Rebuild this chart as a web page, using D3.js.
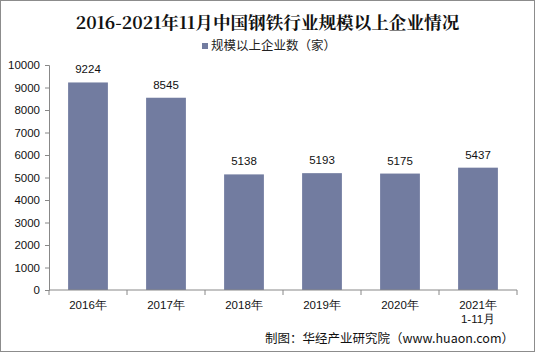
<!DOCTYPE html>
<html>
<head>
<meta charset="utf-8">
<script src="https://cdn.jsdelivr.net/npm/d3@7"></script>
<style>
  body { margin: 0; background: #fff; }
  text { font-family: "Liberation Sans", Arial, sans-serif; }
</style>
</head>
<body>
<div id="chart"></div>
<script>
const categories = ['2016年', '2017年', '2018年', '2019年', '2020年', '2021年\n1-11月'];
const values = [9224, 8545, 5138, 5193, 5175, 5437];
const yTicks = [0, 1000, 2000, 3000, 4000, 5000, 6000, 7000, 8000, 9000, 10000];
const seriesName = '规模以上企业数（家）';
const title = '2016-2021年11月中国钢铁行业规模以上企业情况';
const source = '制图：华经产业研究院（www.huaon.com）';

const W = 535, H = 352;
const margin = { top: 65, right: 18, bottom: 62, left: 49 };
const width = W - margin.left - margin.right;
const height = H - margin.top - margin.bottom;
const barColor = '#727ca0';

const svg = d3.select('#chart').append('svg')
  .attr('width', W)
  .attr('height', H);

// outer frame
svg.append('rect')
  .attr('x', 0.5).attr('y', 0.5)
  .attr('width', W - 1).attr('height', H - 1)
  .attr('fill', '#fff')
  .attr('stroke', '#8c8c8c');

svg.append('text')
  .attr('x', W / 2)
  .attr('y', 29)
  .attr('text-anchor', 'middle')
  .style('font-family', '"Noto Serif CJK SC", "Noto Sans CJK SC", serif')
  .style('font-weight', 'bold')
  .style('font-size', '17.6px')
  .attr('fill', '#111')
  .text(title);

// legend
const legend = svg.append('g').attr('transform', 'translate(202,46)');
legend.append('rect')
  .attr('x', 0).attr('y', -3)
  .attr('width', 6).attr('height', 6)
  .attr('fill', barColor);
legend.append('text')
  .attr('x', 9).attr('y', 0)
  .attr('dy', '0.35em')
  .style('font-family', '"Noto Sans CJK SC", sans-serif')
  .style('font-size', '12.5px')
  .attr('fill', '#222')
  .text(seriesName);

const g = svg.append('g').attr('transform', 'translate(' + margin.left + ',' + margin.top + ')');

const x = d3.scaleBand()
  .domain(categories)
  .range([0, width])
  .paddingInner(0.49)
  .paddingOuter(0.245);

const y = d3.scaleLinear()
  .domain([0, 10000])
  .range([height, 0]);

// y axis
const yAxis = g.append('g')
  .call(d3.axisLeft(y).tickValues(yTicks).tickFormat(d3.format('d')).tickSize(4).tickPadding(5));
yAxis.select('.domain').attr('stroke', '#888');
yAxis.selectAll('.tick line').attr('stroke', '#888');
yAxis.selectAll('text')
  .style('font-size', '11.5px')
  .attr('fill', '#111');

// bars
g.append('g').selectAll('rect')
  .data(values)
  .enter().append('rect')
  .attr('x', function(d, i) { return x(categories[i]); })
  .attr('y', function(d) { return y(d); })
  .attr('width', x.bandwidth())
  .attr('height', function(d) { return height - y(d); })
  .attr('fill', barColor);

g.append('g').selectAll('text')
  .data(values)
  .enter().append('text')
  .attr('x', function(d, i) { return x(categories[i]) + x.bandwidth() / 2; })
  .attr('y', function(d) { return y(d) - 9; })
  .attr('text-anchor', 'middle')
  .style('font-size', '11.5px')
  .attr('fill', '#111')
  .text(function(d) { return d; });

// x axis with ticks at category boundaries
const step = x.step();
const xAxisG = g.append('g').attr('transform', 'translate(0,' + height + ')');
xAxisG.append('line')
  .attr('x1', 0).attr('x2', width)
  .attr('stroke', '#888');
xAxisG.selectAll('.bound')
  .data(d3.range(categories.length + 1))
  .enter().append('line')
  .attr('x1', function(i) { return i * step; })
  .attr('x2', function(i) { return i * step; })
  .attr('y1', 0).attr('y2', 5)
  .attr('stroke', '#888');

const labels = xAxisG.selectAll('.lbl')
  .data(categories)
  .enter().append('text')
  .attr('x', function(d) { return x(d) + x.bandwidth() / 2; })
  .attr('y', 19)
  .attr('text-anchor', 'middle')
  .style('font-size', '11.5px')
  .attr('fill', '#111');
labels.each(function(d) {
  const parts = d.split('\n');
  const t = d3.select(this);
  parts.forEach(function(p, k) {
    t.append('tspan')
      .attr('x', t.attr('x'))
      .attr('dy', k === 0 ? 0 : 14)
      .text(p);
  });
});

// source note
svg.append('text')
  .attr('x', 514)
  .attr('y', 343)
  .attr('text-anchor', 'end')
  .style('font-family', '"Noto Sans CJK SC", sans-serif')
  .style('font-size', '12.5px')
  .attr('fill', '#111')
  .text(source);
</script>
</body>
</html>
